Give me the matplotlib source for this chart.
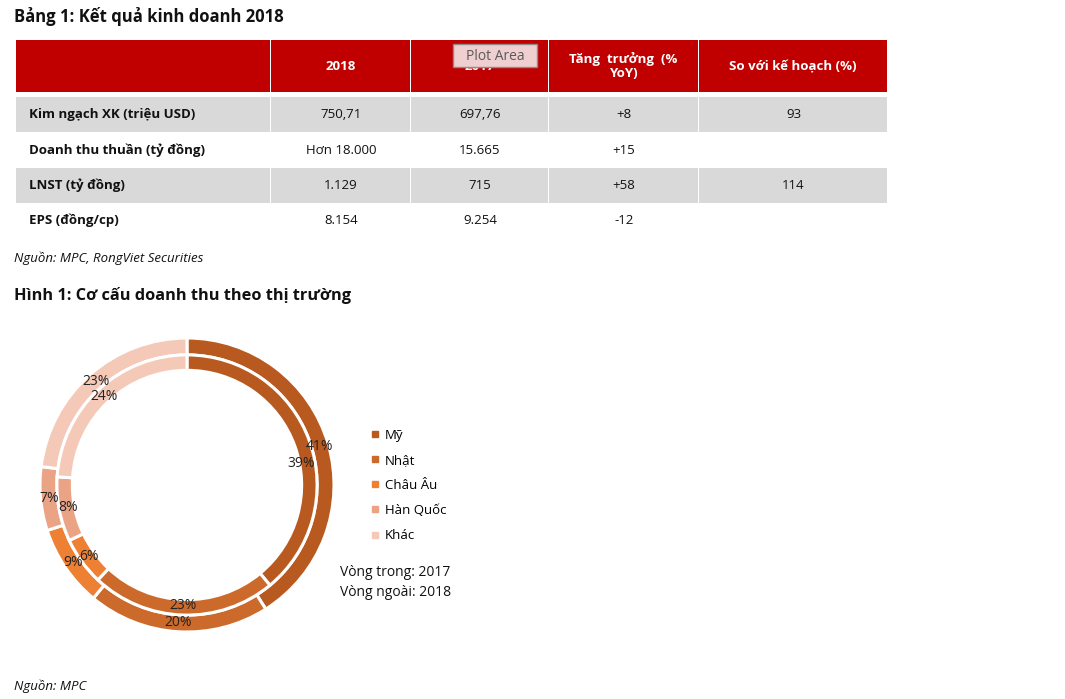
import matplotlib
matplotlib.use("Agg")
import matplotlib.pyplot as plt
from matplotlib.patches import Rectangle
from matplotlib.lines import Line2D

plt.rcParams["font.family"] = ["Open Sans", "DejaVu Sans"]

# --- table data (Bảng 1) ---
col_headers = ["", "2018", "2017", "Tăng  trưởng  (%\nYoY)", "So với kế hoạch (%)"]
row_labels = ["Kim ngạch XK (triệu USD)", "Doanh thu thuần (tỷ đồng)",
              "LNST (tỷ đồng)", "EPS (đồng/cp)"]
val_2018 = ["750,71", "Hơn 18.000", "1.129", "8.154"]
val_2017 = ["697,76", "15.665", "715", "9.254"]
growth = ["+8", "+15", "+58", "-12"]
vs_plan = ["93", "", "114", ""]

# --- donut data (Hình 1) ---
markets = ["Mỹ", "Nhật", "Châu Âu", "Hàn Quốc", "Khác"]
share_2018 = [41, 20, 9, 7, 23]   # outer ring
share_2017 = [39, 23, 6, 8, 24]   # inner ring
colors = ["#b85a20", "#cc6a2c", "#ee8034", "#eaa385", "#f5c9b8"]

W, H = 1065, 699
fig = plt.figure(figsize=(W / 100, H / 100), dpi=100)
ax = fig.add_axes([0, 0, 1, 1])
ax.set_xlim(0, W); ax.set_ylim(H, 0); ax.axis("off")

RED, GREY = "#c00000", "#d9d9d9"
INK = "#111111"
col_x = [16, 271, 411, 549, 699, 888]
head_y = (40, 92)
row_y = [(97, 132), (133, 167), (168, 203), (204, 237)]

ax.text(14, 16, "Bảng 1: Kết quả kinh doanh 2018", fontsize=12,
        fontweight="bold", va="center", ha="left", color=INK)

# header
for i in range(5):
    x0, x1 = col_x[i], col_x[i + 1] - 1.5
    ax.add_patch(Rectangle((x0, head_y[0]), x1 - x0, head_y[1] - head_y[0],
                           color=RED, lw=0))
    if col_headers[i]:
        ax.text((x0 + x1) / 2, 67 if "\n" not in col_headers[i] else 66,
                col_headers[i], color="white", fontsize=9.5, fontweight="bold",
                ha="center", va="center", linespacing=1.15)

# body
cols = [row_labels, val_2018, val_2017, growth, vs_plan]
for r, (y0, y1) in enumerate(row_y):
    if r % 2 == 0:
        for i in range(5):
            x0, x1 = col_x[i], col_x[i + 1] - 1.5
            ax.add_patch(Rectangle((x0, y0), x1 - x0, y1 - y0, color=GREY, lw=0))
    yc = (y0 + y1) / 2
    ax.text(29, yc, row_labels[r], fontsize=9.5, fontweight="bold",
            ha="left", va="center", color=INK)
    for i in range(1, 5):
        ax.text((col_x[i] + col_x[i + 1]) / 2, yc, cols[i][r], fontsize=9.5,
                ha="center", va="center", color=INK)

# "Plot Area" tooltip captured in the screenshot
ax.add_patch(Rectangle((453, 44), 84, 23, facecolor="#efcfcf",
                       edgecolor="#8c8c8c", lw=1, zorder=5))
ax.text(495, 56, "Plot Area", fontsize=10, color="#5a5a5a",
        ha="center", va="center", zorder=6)

ax.text(14, 258, "Nguồn: MPC, RongViet Securities", fontsize=9.5,
        style="italic", ha="left", va="center", color=INK)
ax.text(14, 295, "Hình 1: Cơ cấu doanh thu theo thị trường", fontsize=11.8,
        fontweight="bold", ha="left", va="center", color=INK)
ax.text(14, 686, "Nguồn: MPC", fontsize=9.5, style="italic",
        ha="left", va="center", color=INK)

# donut
cx, cy, R = 187, 485, 147
pax = fig.add_axes([(cx - R) / W, (H - cy - R) / H, 2 * R / W, 2 * R / H])
pax.set_xlim(-1, 1); pax.set_ylim(-1, 1); pax.axis("off")

wedge_kw = dict(edgecolor="white", linewidth=2.2)
txt_kw = dict(fontsize=10, color="#222222")
pax.pie(share_2018, radius=1.0, colors=colors, startangle=90,
        counterclock=False, autopct=lambda p: f"{p:.0f}%",
        pctdistance=0.94, textprops=txt_kw,
        wedgeprops=dict(width=0.115, **wedge_kw))
_, _, inner_pct = pax.pie(share_2017, radius=0.885, colors=colors, startangle=90,
                          counterclock=False, autopct=lambda p: f"{p:.0f}%",
                          pctdistance=0.93, textprops=txt_kw,
                          wedgeprops=dict(width=0.105, **wedge_kw))
# Excel nudged the first inner label down to clear the outer one
px, py = inner_pct[0].get_position()
inner_pct[0].set_position((px, py - 0.13))
pax.set_xlim(-1, 1); pax.set_ylim(-1, 1)

handles = [Line2D([], [], ls="", marker="s", markersize=5, color=c) for c in colors]
fig.legend(handles, markets, loc="upper left",
           bbox_to_anchor=(363 / W, 1 - 422 / H), frameon=False,
           fontsize=9.5, handlelength=0.8, handletextpad=0.35,
           labelspacing=0.92, borderpad=0)

ax.text(340, 573, "Vòng trong: 2017", fontsize=10, ha="left", va="center",
        color=INK)
ax.text(340, 592, "Vòng ngoài: 2018", fontsize=10, ha="left", va="center",
        color=INK)

fig.savefig("out.png", dpi=100)
